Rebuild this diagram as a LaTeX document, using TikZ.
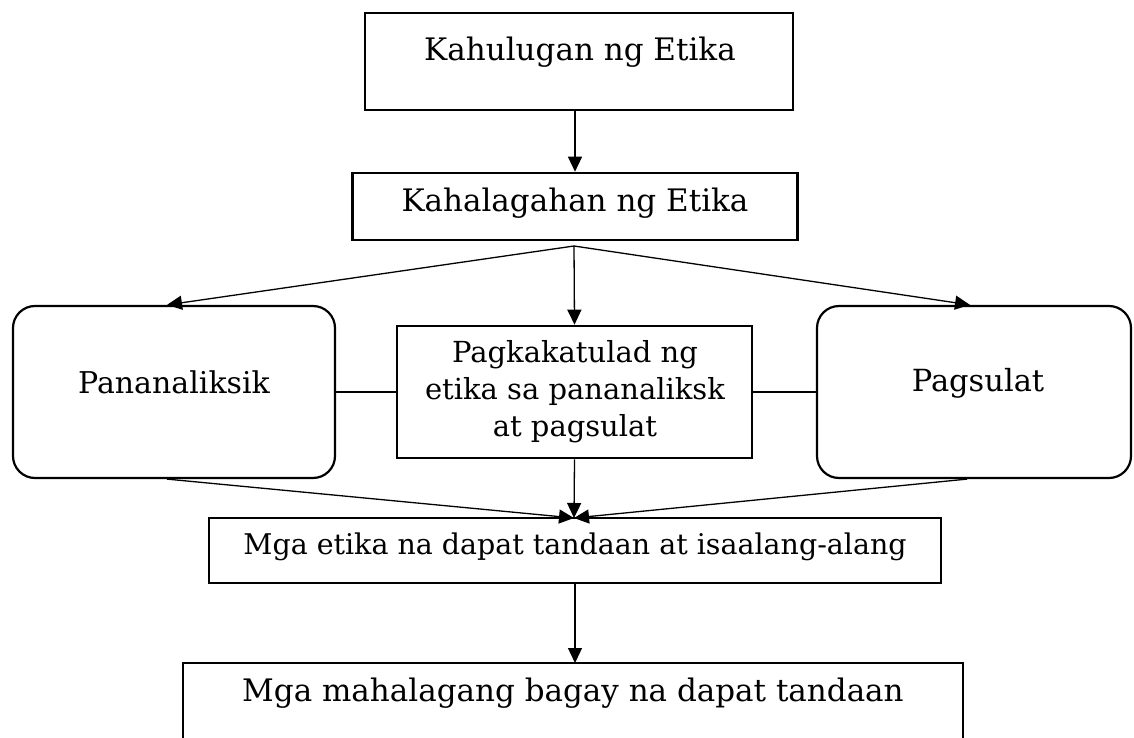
\documentclass[tikz,border=0pt]{standalone}
\usepackage{fontspec}
\setmainfont{DejaVu Serif}
\usetikzlibrary{arrows.meta,calc}
\tikzset{
  sqbox/.style={draw, line width=2.6pt, rectangle, inner sep=0pt},
  rbox/.style={draw, line width=2.2pt, rectangle, rounded corners=22pt, inner sep=0pt},
  lbl/.style={inner sep=0pt, align=center, font=\fontsize{30}{37}\selectfont},
  conn/.style={line width=1.3pt},
  arr/.style={line width=1.3pt, -{Triangle[length=15pt,width=14pt]}, shorten >=0pt},
}
\begin{document}
\begin{tikzpicture}[x=1pt,y=-1pt]
\useasboundingbox (0,0) rectangle (1134,738);
% boxes
\node[sqbox, minimum width=428pt, minimum height=97pt] (b1) at (579,61.5) {};
\node[lbl, font=\fontsize{31}{37}\selectfont] (t1) at (580,52) {Kahulugan ng Etika};
\node[sqbox, minimum width=445pt, minimum height=67pt] (b2) at (575,206.5) {};
\node[lbl, font=\fontsize{31}{37}\selectfont] (t2) at (575,203) {Kahalagahan ng Etika};
\node[rbox, minimum width=322pt, minimum height=172pt] (lb) at (174,392) {};
\node[lbl] (tl) at (174,382) {Pananaliksik};
\node[sqbox, minimum width=355pt, minimum height=132pt] (cb) at (574.5,392) {};
\node[lbl, font=\fontsize{29}{37}\selectfont] (tc) at (575,392) {Pagkakatulad ng\\etika sa pananaliksk\\at pagsulat};
\node[rbox, minimum width=314pt, minimum height=172pt] (rb) at (974,392) {};
\node[lbl, font=\fontsize{30.5}{37}\selectfont] (tr) at (978,383) {Pagsulat};
\node[sqbox, minimum width=732pt, minimum height=65pt] (b4) at (575,550.5) {};
\node[lbl, font=\fontsize{28.5}{37}\selectfont] (t4) at (575,547) {Mga etika na dapat tandaan at isaalang-alang};
\coordinate (b5tl) at (183,663);
\coordinate (b5tr) at (963,663);
\coordinate (b5bl) at (183,740);
\coordinate (b5br) at (963,740);
\draw[line width=2.6pt] (b5bl) -- (b5tl) -- (b5tr) -- (b5br);
\coordinate (b5top) at (575,663);
\node[lbl, font=\fontsize{31}{37}\selectfont] (t5) at (573,693) {Mga mahalagang bagay na dapat tandaan};
% connectors
\coordinate (fan) at (574,246);
\coordinate (conv) at (574,518);
\draw[arr] (b1.south -| b2.north) -- (b2.north);
\draw[arr] (fan) -- ([xshift=-7pt]lb.north);
\draw[arr] (fan) -- (cb.north);
\draw[arr] (fan) -- ([xshift=-4pt]rb.north);
\draw[conn] (lb.east) -- (cb.west);
\draw[conn] (cb.east) -- (rb.west);
\draw[arr] ([xshift=-7pt]lb.south) -- (conv);
\draw[arr] (cb.south) -- (conv);
\draw[arr] ([xshift=-7pt]rb.south) -- (conv);
\draw[arr] (b4.south) -- (b5top);
\end{tikzpicture}
\end{document}
